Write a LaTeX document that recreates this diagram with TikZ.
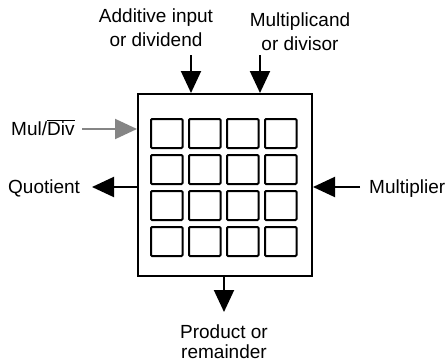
\documentclass[tikz,border=0pt]{standalone}
\usepackage{fontspec}
\setmainfont{Liberation Sans}
\usepackage{tikz}
\usetikzlibrary{arrows.meta,positioning}
\definecolor{ctlgray}{HTML}{858585}
\tikzset{
  unitbox/.style={rectangle, draw, line width=2pt, minimum width=174pt, minimum height=182pt, inner sep=0pt},
  cell/.style={rectangle, draw, line width=2pt, rounded corners=1pt,
               minimum width=31.5pt, minimum height=29pt, inner sep=0pt},
  lbl/.style={align=center, font=\fontsize{19}{24}\selectfont, inner sep=0pt},
  arr/.style={-{Triangle[length=22pt,width=20pt]}, line width=2pt},
}

\begin{document}
\begin{tikzpicture}[x=1pt,y=-1pt]
    \useasboundingbox (0,0) rectangle (448,362);
    \node[unitbox] (unit) at (225,185) {};
    \foreach \r in {0,...,3} \foreach \c in {0,...,3}
      \node[cell] (c\r\c) at ({166.75+38*\c},{133.5+36*\r}) {};
    % labels
    \node[lbl, anchor=north] (addin) at (156,9) {Additive input\\or dividend};
    \node[lbl, anchor=north] (mcand) at (300,13) {Multiplicand\\or divisor};
    \node[lbl, anchor=base west] (muldiv) at (11,135) {Mul/$\overline{\mbox{Div}}$};
    \node[lbl, anchor=base west] (quot) at (8,193) {Quotient};
    \node[lbl, anchor=base west] (mlier) at (369,193) {Multiplier};
    \node[lbl, anchor=north, font=\fontsize{19}{20}\selectfont] (prod) at (224,325) {Product or\\remainder};
    % arrows
    \coordinate (addinTail) at (191,55);
    \coordinate (mcandTail) at (260,55);
    \coordinate (mdTail) at (82,129);
    \coordinate (quotTip) at (92,187);
    \coordinate (mlierTail) at (360,187);
    \coordinate (prodTip) at (224,312);
    \draw[arr] (addinTail) -- (addinTail |- unit.north);
    \draw[arr] (mcandTail) -- (mcandTail |- unit.north);
    \draw[arr, ctlgray] (mdTail) -- (mdTail -| unit.west);
    \draw[arr] (unit.west |- quotTip) -- (quotTip);
    \draw[arr] (mlierTail) -- (mlierTail -| unit.east);
    \draw[arr] (unit.south -| prodTip) -- (prodTip);
\end{tikzpicture}
\end{document}
